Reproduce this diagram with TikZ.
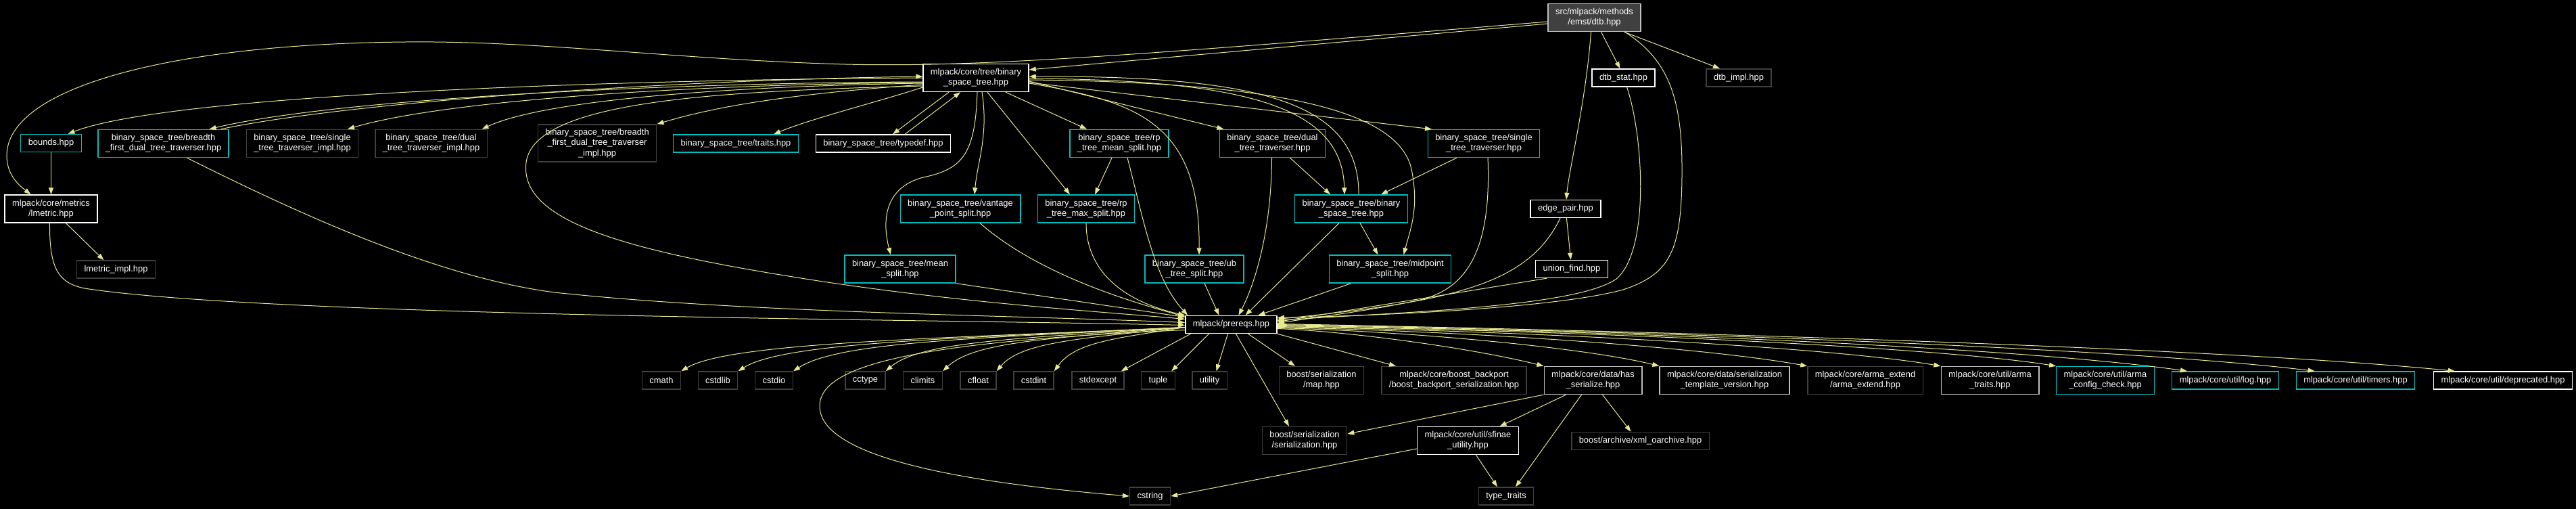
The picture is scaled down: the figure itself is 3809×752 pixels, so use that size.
\documentclass[tikz,border=0pt]{standalone}
\usepackage{fontspec}
\setmainfont{Liberation Sans}
\usetikzlibrary{arrows.meta}
\definecolor{incl}{RGB}{232,232,142}
\definecolor{cyanline}{RGB}{0,190,190}
\definecolor{dimline}{RGB}{64,64,64}
\definecolor{paleline}{RGB}{191,191,191}

\begin{document}
\begin{tikzpicture}[x=1pt, y=-1pt,
	every node/.style={font=\fontsize{12.9}{15.3}\selectfont, text=white, align=center, fill=black, inner xsep=11pt, inner ysep=2pt, minimum height=26pt, line width=1.4pt},
	wfile/.style={draw=white},
	cfile/.style={draw=cyanline},
	gfile/.style={draw=dimline},
	lfile/.style={draw=paleline},
	two/.style={minimum height=41pt},
	three/.style={minimum height=55pt},
	inc/.style={draw=incl, line width=1pt, -{Triangle[length=10pt,width=7pt]}}]
				\fill[black] (0,0) rectangle (3809,752);
				\useasboundingbox (0,0) rectangle (3809,752);
				
				\node[two, draw=paleline, fill=dimline] (dtb) at (2357.5,26) {src/mlpack/methods\\/emst/dtb.hpp};
				
				\node[wfile, two] (bst) at (1443,115) {mlpack/core/tree/binary\\\_space\_tree.hpp};
				\node[wfile] (dtbstat) at (2400.5,115) {dtb\_stat.hpp};
				\node[gfile] (dtbimpl) at (2571,115) {dtb\_impl.hpp};
				
				\node[cfile] (bounds) at (75.5,211.5) {bounds.hpp};
				\node[cfile, two] (bfdtt) at (241.5,212) {binary\_space\_tree/breadth\\\_first\_dual\_tree\_traverser.hpp};
				\node[gfile, two] (sttimpl) at (447,212) {binary\_space\_tree/single\\\_tree\_traverser\_impl.hpp};
				\node[gfile, two] (dttimpl) at (637.5,212) {binary\_space\_tree/dual\\\_tree\_traverser\_impl.hpp};
				\node[gfile, three] (bfdttimpl) at (883,211.5) {binary\_space\_tree/breadth\\\_first\_dual\_tree\_traverser\\\_impl.hpp};
				\node[cfile] (traits) at (1088,212) {binary\_space\_tree/traits.hpp};
				\node[wfile] (typedef) at (1306,212) {binary\_space\_tree/typedef.hpp};
				\node[cfile, two] (rpmean) at (1655,212) {binary\_space\_tree/rp\\\_tree\_mean\_split.hpp};
				\node[cfile, two] (dtt) at (1881.5,212) {binary\_space\_tree/dual\\\_tree\_traverser.hpp};
				\node[cfile, two] (stt) at (2194,212) {binary\_space\_tree/single\\\_tree\_traverser.hpp};
				
				\node[wfile, two] (lmetric) at (75.5,308.5) {mlpack/core/metrics\\/lmetric.hpp};
				\node[gfile] (lmetricimpl) at (171.5,398) {lmetric\_impl.hpp};
				\node[cfile, two] (vantage) at (1420,308.5) {binary\_space\_tree/vantage\\\_point\_split.hpp};
				\node[cfile, two] (rpmax) at (1606,308.5) {binary\_space\_tree/rp\\\_tree\_max\_split.hpp};
				\node[cfile, two] (bsttree) at (1998,308.5) {binary\_space\_tree/binary\\\_space\_tree.hpp};
				\node[wfile] (edgepair) at (2315,308.5) {edge\_pair.hpp};
				
				\node[cfile, two] (meansplit) at (1331,397.5) {binary\_space\_tree/mean\\\_split.hpp};
				\node[cfile, two] (ubtree) at (1766,397.5) {binary\_space\_tree/ub\\\_tree\_split.hpp};
				\node[cfile, two] (midpoint) at (2055.5,397.5) {binary\_space\_tree/midpoint\\\_split.hpp};
				\node[wfile] (unionfind) at (2324,397.5) {union\_find.hpp};
				
				\node[wfile] (prereqs) at (1820.5,479.5) {mlpack/prereqs.hpp};
				
				\node[gfile] (cmath) at (978,562) {cmath};
				\node[gfile] (cstdlib) at (1061.5,562) {cstdlib};
				\node[gfile] (cstdio) at (1144.5,562) {cstdio};
				\node[gfile] (cctype) at (1279.5,562) {cctype};
				\node[gfile] (climits) at (1364.5,562) {climits};
				\node[gfile] (cfloat) at (1446.5,562) {cfloat};
				\node[gfile] (cstdint) at (1528.5,562) {cstdint};
				\node[gfile] (stdexcept) at (1623.5,562) {stdexcept};
				\node[gfile] (tuple) at (1712.5,562) {tuple};
				\node[gfile] (utility) at (1788.5,562) {utility};
				\node[gfile, two] (map) at (1954,562) {boost/serialization\\/map.hpp};
				\node[gfile, two] (backport) at (2150,562) {mlpack/core/boost\_backport\\/boost\_backport\_serialization.hpp};
				\node[lfile, two] (hasser) at (2355.5,562) {mlpack/core/data/has\\\_serialize.hpp};
				\node[lfile, two] (tmplver) at (2550,562) {mlpack/core/data/serialization\\\_template\_version.hpp};
				\node[gfile, two] (armaext) at (2758,562) {mlpack/core/arma\_extend\\/arma\_extend.hpp};
				\node[lfile, two] (armatraits) at (2942.5,562) {mlpack/core/util/arma\\\_traits.hpp};
				\node[cfile, two] (armacheck) at (3113,562) {mlpack/core/util/arma\\\_config\_check.hpp};
				\node[cfile] (log) at (3290.5,562) {mlpack/core/util/log.hpp};
				\node[cfile] (timers) at (3483,562) {mlpack/core/util/timers.hpp};
				\node[wfile] (deprecated) at (3701,562) {mlpack/core/util/deprecated.hpp};
				
				\node[gfile, two] (serial) at (1929,651) {boost/serialization\\/serialization.hpp};
				\node[wfile, two] (sfinae) at (2170.5,651) {mlpack/core/util/sfinae\\\_utility.hpp};
				\node[gfile] (xmlarch) at (2425.5,651.5) {boost/archive/xml\_oarchive.hpp};
				\node[gfile] (cstring) at (1700.5,733) {cstring};
				\node[gfile] (typetraits) at (2227,733) {type\_traits};
				
				\draw[inc] ([yshift=-9pt]dtb.west) -- ([yshift=12pt]bst.east);
				\draw[inc] ([yshift=-6pt]dtb.west) .. controls (1700,80) and (1450,100) .. (1250,95)
				.. controls (1000,88) and (800,60) .. (600,62)
				.. controls (250,65) and (10,130) .. (10,230)
				.. controls (10,260) and (30,275) .. ([xshift=-30pt]lmetric.north);
				\draw[inc] ([xshift=10pt]dtb.south) -- ([xshift=-5pt]dtbstat.north);
				\draw[inc] ([xshift=44pt]dtb.south) -- ([xshift=-28pt]dtbimpl.north);
				\draw[inc] ([xshift=-5pt]dtb.south) .. controls (2345,150) and (2320,250) .. ([xshift=1pt]edgepair.north);
				\draw[inc] ([xshift=45pt]dtb.south) .. controls (2470,90) and (2488,150) .. (2487,260)
				.. controls (2486,370) and (2470,405) .. (2400,428)
				.. controls (2300,455) and (2050,466) .. ([yshift=10pt]prereqs.east);
				\draw[inc] ([xshift=5pt]dtbstat.south) .. controls (2430,200) and (2440,370) .. (2390,412)
				.. controls (2330,455) and (2050,462) .. ([yshift=6pt]prereqs.east);
				
				\draw[inc] (bst.west) .. controls (900,118) and (250,140) .. ([xshift=25pt]bounds.north);
				\draw[inc] ([yshift=-6pt]bst.west) .. controls (1000,122) and (500,145) .. ([xshift=68pt]bfdtt.north);
				\draw[inc] ([xshift=85pt]bfdtt.north) .. controls (520,150) and (1000,118) .. ([yshift=2pt]bst.west);
				\draw[inc] ([yshift=-7pt]bst.west) .. controls (1000,125) and (650,150) .. ([xshift=67pt]sttimpl.north);
				\draw[inc] ([yshift=-8pt]bst.west) .. controls (1050,128) and (800,150) .. ([xshift=75pt]dttimpl.north);
				\draw[inc] ([yshift=-10pt]bst.west) .. controls (1150,140) and (1050,160) .. (bfdttimpl.north east);
				\draw[inc] ([yshift=-14pt]bst.west) .. controls (1300,150) and (1200,175) .. ([xshift=56pt]traits.north);
				\draw[inc] ([yshift=-12pt]bst.west) .. controls (1050,135) and (790,150) .. (778,240)
				.. controls (768,320) and (900,365) .. (1160,407)
				.. controls (1400,447) and (1650,462) .. ([yshift=8pt]prereqs.west);
				\draw[inc] ([xshift=-40pt]bst.south) -- ([xshift=14pt]typedef.north);
				\draw[inc] ([xshift=32pt]typedef.north) -- ([xshift=-23pt]bst.south);
				\draw[inc] ([xshift=2pt]bst.south) .. controls (1442,225) and (1425,250) .. (1365,262)
				.. controls (1305,278) and (1305,330) .. ([xshift=-14pt]meansplit.north);
				\draw[inc] ([xshift=9pt]bst.south) .. controls (1462,200) and (1445,240) .. ([xshift=21pt]vantage.north);
				\draw[inc] ([xshift=17pt]bst.south) -- ([xshift=-24pt]rpmax.north);
				\draw[inc] ([xshift=44pt]bst.south) -- ([xshift=-48pt]rpmean.north);
				\draw[inc] ([yshift=-8pt]bst.east) .. controls (1680,150) and (1775,180) .. ([xshift=7pt]ubtree.north);
				\draw[inc] ([yshift=-5pt]bst.east) -- ([xshift=-72pt]dtt.north);
				\draw[inc] ([yshift=-7pt]bst.east) -- ([xshift=-77pt]stt.north);
				\draw[inc] ([yshift=-1pt]bst.east) .. controls (1850,118) and (1985,160) .. ([xshift=-10pt]bsttree.north);
				\draw[inc] ([xshift=11pt]bsttree.north) .. controls (2010,150) and (1860,112) .. ([yshift=2pt]bst.east);
				\draw[inc] ([yshift=-3pt]bst.east) .. controls (1920,122) and (2075,170) .. (2088,255)
				.. controls (2098,310) and (2085,340) .. ([xshift=20pt]midpoint.north);
				
				\draw[inc] ([xshift=-11pt]rpmean.south) -- ([xshift=13pt]rpmax.north);
				\draw[inc] ([xshift=12pt]rpmean.south) .. controls (1690,320) and (1705,410) .. ([xshift=4pt]prereqs.north west);
				\draw[inc] ([xshift=26pt]dtt.south) -- ([xshift=-31pt]bsttree.north);
				\draw[inc] ([xshift=-1pt]dtt.south) .. controls (1880,330) and (1860,410) .. ([xshift=11pt]prereqs.north);
				\draw[inc] ([xshift=-40pt]stt.south) -- ([xshift=44pt]bsttree.north);
				\draw[inc] ([xshift=6pt]stt.south) .. controls (2205,360) and (2175,425) .. (2100,443)
				.. controls (2020,460) and (1950,468) .. ([yshift=2pt]prereqs.east);
				
				\draw[inc] (bounds) -- (lmetric);
				\draw[inc] ([xshift=22pt]lmetric.south) -- ([xshift=-18pt]lmetricimpl.north);
				\draw[inc] ([xshift=-2pt]lmetric.south) .. controls (73,395) and (85,418) .. (125,426)
				.. controls (400,468) and (1400,472) .. ([yshift=-1pt]prereqs.west);
				\draw[inc] ([xshift=35pt]bfdtt.south) .. controls (450,320) and (650,410) .. (820,432)
				.. controls (1100,462) and (1500,466) .. ([yshift=3pt]prereqs.west);
				\draw[inc] (meansplit.south east) -- ([yshift=11pt]prereqs.west);
				\draw[inc] ([xshift=29pt]vantage.south) .. controls (1530,400) and (1650,440) .. ([yshift=-2pt]prereqs.north west);
				\draw[inc] (rpmax.south) .. controls (1606,400) and (1660,445) .. (prereqs.north west);
				\draw[inc] ([xshift=15pt]ubtree.south) -- ([xshift=-18pt]prereqs.north);
				\draw[inc] ([xshift=-18pt]bsttree.south) -- ([xshift=21pt]prereqs.north);
				\draw[inc] ([xshift=13pt]bsttree.south) -- ([xshift=-18pt]midpoint.north);
				\draw[inc] ([xshift=-58pt]midpoint.south) -- ([xshift=40pt]prereqs.north);
				\draw[inc] (edgepair) -- (unionfind);
				\draw[inc] ([xshift=-8pt]edgepair.south) .. controls (2260,420) and (2150,445) .. ([yshift=8pt]prereqs.east);
				\draw[inc] ([xshift=-37pt]unionfind.south) -- ([yshift=4pt]prereqs.east);
				
				\foreach \n/\a/\b in {cmath/1400/1080, cstdlib/1420/1160, cstdio/1440/1240, cctype/1500/1360,
					climits/1550/1440, cfloat/1600/1510, cstdint/1650/1590}
				\draw[inc] ([yshift=-4pt]prereqs.west) .. controls (\a,500) and (\b,505) .. (\n.north east);
				\draw[inc] ([xshift=-60pt]prereqs.south) -- ([xshift=-5pt]stdexcept.north east);
				\draw[inc] ([xshift=-33pt]prereqs.south) -- ([xshift=-6pt]tuple.north east);
				\draw[inc] ([xshift=-5pt]prereqs.south) -- ([xshift=10pt]utility.north);
				\draw[inc] ([xshift=25pt]prereqs.south) -- ([xshift=-39pt]map.north);
				\draw[inc] ([xshift=7pt]prereqs.south) -- ([xshift=-23pt]serial.north);
				\draw[inc] ([yshift=-8pt]prereqs.west) .. controls (1350,505) and (1212,540) .. (1212,600)
				.. controls (1212,680) and (1450,715) .. (cstring.west);
				\draw[inc] (prereqs.south east) -- ([xshift=-86pt]backport.north);
				\foreach \n/\s/\a/\b/\dx in {hasser/-6/2000/2180/0, tmplver/-5/2100/2350/0, armaext/-4/2200/2530/0,
					armatraits/-3/2300/2720/0, armacheck/-2/2400/2880/0, log/-1/2450/3000/23,
					timers/0/2480/3150/28, deprecated/1/2500/3300/32}
				\draw[inc] ([yshift=\s pt]prereqs.east) .. controls (\a,490) and (\b,515) .. ([xshift=\dx pt]\n.north west);
				
				\draw[inc] (hasser.south west) -- ([yshift=10pt]serial.east);
				\draw[inc] ([xshift=-40pt]hasser.south) -- ([xshift=47pt]sfinae.north);
				\draw[inc] ([xshift=-17pt]hasser.south) -- ([xshift=14pt]typetraits.north);
				\draw[inc] ([xshift=14pt]hasser.south) -- ([xshift=-14pt]xmlarch.north);
				\draw[inc] ([xshift=12pt]sfinae.south) -- ([xshift=-13pt]typetraits.north);
				\draw[inc] ([yshift=-12pt]sfinae.west) -- (cstring.east);
			\end{tikzpicture}
\end{document}
